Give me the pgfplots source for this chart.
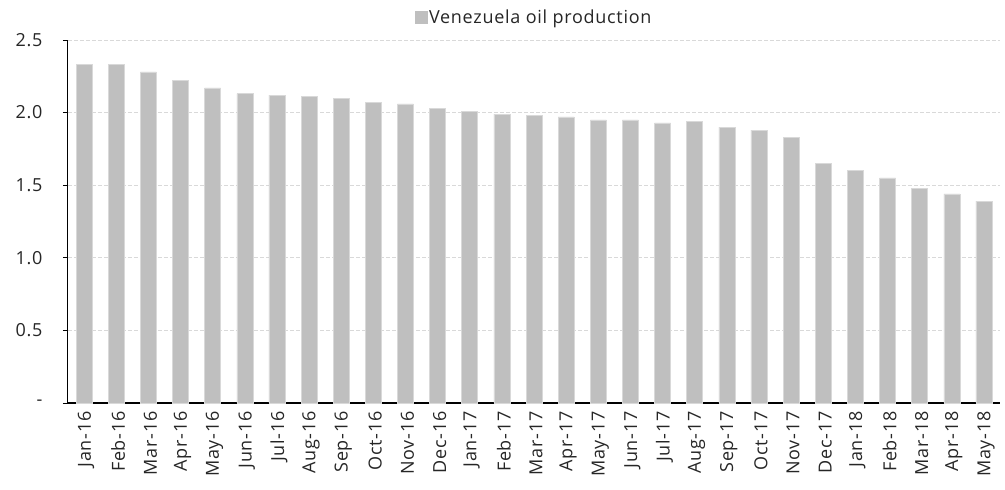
\documentclass[border=0pt]{standalone}
\usepackage{pgfplots}
\pgfplotsset{compat=1.18}
\usepackage{fontspec}
\setmainfont[LetterSpace=4]{Open Sans}
\definecolor{bargray}{HTML}{BFBFBF}
\definecolor{gridgray}{HTML}{D9D9D9}
\definecolor{txt}{HTML}{262626}
\begin{document}
\begin{tikzpicture}
\begin{axis}[
  scale only axis,
  width=932pt, height=363pt,
  xmin=-0.5, xmax=28.5,
  ymin=0, ymax=2.5,
  ytick={0,0.5,1,1.5,2,2.5},
  yticklabels={-,0.5,1.0,1.5,2.0,2.5},
  xtick=data,
  xticklabels={Jan-16,Feb-16,Mar-16,Apr-16,May-16,Jun-16,Jul-16,Aug-16,Sep-16,Oct-16,Nov-16,Dec-16,
               Jan-17,Feb-17,Mar-17,Apr-17,May-17,Jun-17,Jul-17,Aug-17,Sep-17,Oct-17,Nov-17,Dec-17,
               Jan-18,Feb-18,Mar-18,Apr-18,May-18},
  x tick label style={rotate=90, anchor=east, font=\fontsize{18}{20}\selectfont, text=txt},
  y tick label style={font=\fontsize{18}{20}\selectfont, text=txt},
  xticklabel style={yshift=-2pt},
  yticklabel style={xshift=-17pt},
  axis x line*=bottom,
  axis y line*=left,
  x axis line style={-, black, line width=1.2pt},
  y axis line style={-, black, line width=1pt},
  major x tick style={draw=none},
  ytick style={black, line width=0.8pt},
  tick align=outside,
  major tick length=5pt,
  ymajorgrids,
  grid style={gridgray, dash pattern=on 4pt off 2pt, line width=0.8pt},
  legend style={at={(0.5,1)}, anchor=south, yshift=11pt, draw=none, fill=none,
    font=\fontsize{18}{20}\selectfont, text=txt,
    legend cell align=left, /tikz/every even column/.append style={column sep=0pt}},
  legend image code/.code={\fill[bargray] (0pt,-6pt) rectangle (12pt,6pt);},
  clip=false,
]
\addplot[ybar, bar width=16pt, fill=bargray, draw=gridgray, line width=0.5pt] coordinates {
  (0,2.33) (1,2.33) (2,2.28) (3,2.22) (4,2.17) (5,2.13) (6,2.12) (7,2.11) (8,2.10)
  (9,2.07) (10,2.06) (11,2.03) (12,2.01) (13,1.99) (14,1.98) (15,1.97) (16,1.95)
  (17,1.95) (18,1.93) (19,1.94) (20,1.90) (21,1.88) (22,1.83) (23,1.65) (24,1.60)
  (25,1.55) (26,1.48) (27,1.44) (28,1.39)
};
\addlegendentry{Venezuela oil production}
\end{axis}
\pgfresetboundingbox
\path (-68pt,-87pt) rectangle (937pt,403pt);
\end{tikzpicture}
\end{document}
